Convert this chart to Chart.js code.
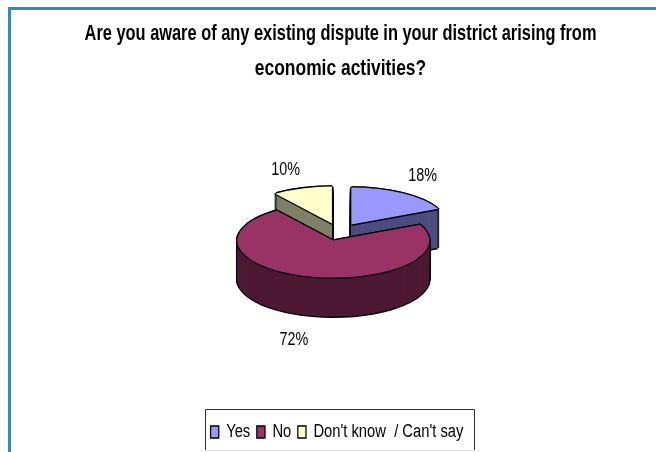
<!DOCTYPE html>
<html>
<head>
<meta charset="utf-8">
<title>Dispute awareness</title>
<script src="https://cdn.jsdelivr.net/npm/chart.js@4"></script>
<style>
  html, body { margin: 0; padding: 0; background: #fff; }
  #wrap { position: relative; width: 656px; height: 452px; overflow: hidden; }
</style>
</head>
<body>
<div id="wrap"><canvas id="grafico" width="656" height="452"></canvas></div>
<script>
const titleLines = [
  'Are you aware of any existing dispute in your district arising from',
  'economic activities?'
];
const categories = ['Yes', 'No', "Don't know  / Can't say"];
const percentages = [18, 72, 10];
const topColors = ['#9999FF', '#993366', '#FFFFCC'];
const sideColors = ['#4D4D80', '#4D1933', '#808066'];
const paintOrder = [2, 0, 1];
const labelNudge = [[-9, 0], [-2, 5], [0, 1]];

// pie geometry
const pieX = 339, pieY = 232;
const squash = 0.385;
const depth = 39;
const explode = 23;
const labelRadius = 150;
const edge = 1.4;

// text is drawn horizontally condensed around this x
const textCenter = 340;
const narrow = 0.8;
const fontName = '"Liberation Sans", Arial, sans-serif';

function paintArc(ctx, arc, color, sx, sy) {
  const half = (arc.startAngle + arc.endAngle) / 2;
  const saved = arc.options;
  arc.options = Object.assign({}, saved, { backgroundColor: color, borderWidth: 0 });
  ctx.save();
  ctx.translate(pieX + sx, pieY + sy);
  ctx.scale(1, squash);
  ctx.translate(Math.cos(half) * explode - arc.x, Math.sin(half) * explode - arc.y);
  arc.draw(ctx);
  ctx.restore();
  arc.options = saved;
}

function outlineArc(ctx, arc, sy) {
  [[-edge, 0], [edge, 0], [0, -edge], [0, edge]].forEach(function (d) {
    paintArc(ctx, arc, '#000000', d[0], sy + d[1]);
  });
}

function condense(box, factor, shift) {
  const draw = box.draw;
  box.draw = function (area) {
    const ctx = box.ctx;
    ctx.save();
    ctx.translate(textCenter + shift, 0);
    ctx.scale(factor, 1);
    ctx.translate(-textCenter, 0);
    draw.call(box, area);
    ctx.restore();
  };
}

// tilted pie: extruded walls first, then the top face of every slice
const tiltedPie = {
  id: 'tiltedPie',
  beforeDatasetDraw: function (chart) {
    const ctx = chart.ctx;
    const arcs = chart.getDatasetMeta(0).data;
    paintOrder.forEach(function (i) {
      const arc = arcs[i];
      for (let y = depth; y >= 0; y--) outlineArc(ctx, arc, y);
      for (let y = depth; y >= 1; y--) paintArc(ctx, arc, sideColors[i], 0, y);
      outlineArc(ctx, arc, 0);
      paintArc(ctx, arc, topColors[i], 0, 0);
    });
    return false;
  },
  afterDraw: function (chart) {
    const ctx = chart.ctx;
    const arcs = chart.getDatasetMeta(0).data;

    // percentage labels around the pie
    ctx.font = '18px ' + fontName;
    ctx.fillStyle = '#000';
    ctx.textAlign = 'center';
    ctx.textBaseline = 'middle';
    arcs.forEach(function (arc, i) {
      const half = (arc.startAngle + arc.endAngle) / 2;
      const r = explode + labelRadius;
      const x = pieX + Math.cos(half) * r + labelNudge[i][0];
      let y = pieY + Math.sin(half) * r * squash + labelNudge[i][1];
      if (Math.sin(half) > 0) y += depth;
      ctx.save();
      ctx.translate(x, y);
      ctx.scale(narrow, 1);
      ctx.fillText(percentages[i] + '%', 0, 0);
      ctx.restore();
    });

    // box around the legend
    ctx.save();
    ctx.strokeStyle = '#333';
    ctx.lineWidth = 1;
    ctx.beginPath();
    ctx.moveTo(205.5, 451);
    ctx.lineTo(205.5, 409.5);
    ctx.lineTo(474.5, 409.5);
    ctx.lineTo(474.5, 451);
    ctx.stroke();
    ctx.strokeStyle = '#ddd';
    ctx.beginPath();
    ctx.moveTo(205, 450.5);
    ctx.lineTo(475, 450.5);
    ctx.stroke();
    ctx.restore();

    // outer frame, left and top edges only
    ctx.save();
    ctx.strokeStyle = '#2E8FB5';
    ctx.lineWidth = 3;
    ctx.beginPath();
    ctx.moveTo(9.5, 452);
    ctx.lineTo(9.5, 8.5);
    ctx.lineTo(656, 8.5);
    ctx.stroke();
    ctx.restore();
  }
};

const chart = new Chart(document.getElementById('grafico'), {
  type: 'pie',
  plugins: [tiltedPie],
  data: {
    labels: categories,
    datasets: [{
      data: percentages,
      backgroundColor: topColors,
      borderWidth: 0,
      radius: 96
    }]
  },
  options: {
    responsive: false,
    animation: false,
    layout: { padding: { left: 24, top: 0, bottom: 1 } },
    plugins: {
      tooltip: { enabled: false },
      title: {
        display: true,
        text: titleLines,
        color: '#000',
        padding: { top: 17, bottom: 10 },
        font: { family: fontName, size: 21.5, weight: 'bold', lineHeight: 1.63 }
      },
      legend: {
        position: 'bottom',
        onClick: null,
        labels: {
          color: '#000',
          boxWidth: 10,
          boxHeight: 12,
          padding: 8,
          font: { family: fontName, size: 18 },
          generateLabels: function () {
            return categories.map(function (c, i) {
              return { text: c, fillStyle: topColors[i], strokeStyle: '#000', lineWidth: 1.5, index: i };
            });
          }
        }
      }
    }
  }
});
condense(chart.titleBlock, 0.81, 0.5);
condense(chart.legend, 0.82, -3);
chart.draw();
</script>
</body>
</html>
